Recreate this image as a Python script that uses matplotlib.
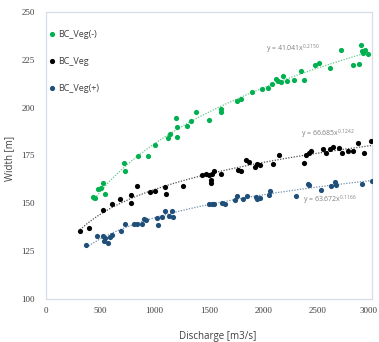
import numpy as np
import matplotlib
matplotlib.use("Agg")
import matplotlib.pyplot as plt
import matplotlib.transforms as mtransforms

# ---- data ----
green_x = [434, 452, 483, 505, 523, 545, 714, 723, 846, 939, 1006, 1120, 1139, 1200, 1207, 1207,
           1299, 1330, 1376, 1499, 1613, 1613, 1761, 1791, 1893, 1985, 2047, 2084, 2115, 2136, 2167,
           2185, 2222, 2283, 2345, 2376, 2475, 2508, 2616, 2715, 2828, 2884, 2899, 2905, 2915, 2939, 2967]
green_y = [153.3, 153, 157.6, 158, 160.8, 155, 171, 166.9, 174.5, 174.5, 180.7, 184.2, 186, 194.4, 190, 184.9,
           190.6, 193.2, 197.6, 193.6, 199.3, 197.6, 203.3, 204.5, 208, 209.7, 210.3, 212.3, 214.9, 214, 213.5,
           216.7, 213.7, 214.4, 219.3, 214.4, 222.2, 223.3, 220.5, 230, 222.2, 222.7, 232.6, 229.7, 228.5, 230.2, 228.3]

black_x = [314, 397, 523, 606, 677, 782, 785, 837, 954, 1006, 1099, 1108, 1262, 1437, 1468, 1499, 1514,
           1521, 1530, 1545, 1607, 1766, 1791, 1837, 1868, 1924, 1945, 1970, 2093, 2145, 2376, 2391, 2422,
           2438, 2545, 2576, 2616, 2638, 2693, 2724, 2776, 2822, 2869, 2930, 2992]
black_y = [135.4, 137.1, 146.7, 149.5, 152.4, 154.5, 150.2, 158.9, 155.9, 156.3, 158.5, 155, 158.9, 164.6, 165.1,
           164.6, 162, 160.6, 165.5, 166.8, 165.5, 167.6, 166.8, 172.4, 171.5, 168.9, 170.3, 170.1, 170.7, 175.5,
           171, 175.4, 176.4, 177.2, 178.5, 176.4, 178.5, 179.3, 179, 176.4, 177.6, 177.6, 181.6, 176.2, 182.4]

blue_x = [372, 471, 529, 532, 545, 575, 588, 606, 689, 729, 806, 837, 883, 899, 923, 1022, 1031, 1068, 1099,
          1129, 1161, 1166, 1499, 1530, 1545, 1616, 1647, 1737, 1761, 1816, 1853, 1930, 1945, 1970, 2053, 2059,
          2299, 2413, 2416, 2530, 2622, 2662, 2668, 2909, 2998]
blue_y = [128.1, 133, 133, 130.4, 132, 129.3, 132.6, 133.2, 135.6, 139.4, 139.4, 139.4, 139.4, 141.7, 141.5,
          142.5, 138.9, 143, 146.1, 143.2, 146, 142.9, 149.8, 149.7, 149.5, 150.4, 149.8, 152, 153.9, 152.4,
          153.6, 153.4, 152.1, 153, 154.2, 156.4, 153.6, 160.2, 159.6, 156.8, 158.9, 161.1, 159.7, 160.2, 161.5]

series_labels = ["BC_Veg(-)", "BC_Veg", "BC_Veg(+)"]
fit_a = [41.041, 66.685, 63.672]
fit_b = [0.2150, 0.1242, 0.1166]
fit_text = ["41.041", "66.685", "63.672"]
fit_exp_text = ["0.2150", "0.1242", "0.1166"]

x_ticks = [0, 500, 1000, 1500, 2000, 2500, 3000]
y_ticks = [100, 125, 150, 175, 200, 225, 250]

# ---- plot ----
fig = plt.figure(figsize=(3.79, 3.42), dpi=100)
ax = fig.add_axes([46 / 379, 43 / 342, 326 / 379, 287 / 342])

colors = ["#00b050", "#000000", "#1f4e79"]
trend_colors = ["#66c98a", "#505050", "#7090b0"]
xs = [green_x, black_x, blue_x]
ys = [green_y, black_y, blue_y]
label_pos = [(293, 49), (328, 134), (330, 200)]

for i in range(3):
    ax.scatter(xs[i], ys[i], s=14, color=colors[i], zorder=3, label=series_labels[i], linewidths=0)
    xx = np.linspace(min(xs[i]), max(xs[i]), 200)
    ax.plot(xx, fit_a[i] * xx ** fit_b[i], linestyle=(0, (1, 1.2)), color=trend_colors[i], lw=0.9, zorder=2)

# equation labels (pixel positions converted to data)
def px_to_data(px, py):
    return (px - 46) / 326 * 3000, 100 + (299 - py) / 287 * 150

for i in range(3):
    dx, dy = px_to_data(*label_pos[i])
    ax.text(dx, dy, "y = " + fit_text[i] + "x$^{\\mathregular{" + fit_exp_text[i] + "}}$",
            fontsize=5, color="#808080", ha="center", va="center", family="Open Sans", zorder=4)

ax.set_xlim(0, 3000)
ax.set_ylim(100, 250)
ax.set_xticks(x_ticks)
ax.set_yticks(y_ticks)
ax.tick_params(length=0, labelsize=6.5, labelcolor="#404040", pad=8)
for lab in ax.get_xticklabels() + ax.get_yticklabels():
    lab.set_family("Liberation Serif")
ax.tick_params(axis="x", pad=6)
# nudge last x tick label so it stays inside the figure
last = ax.get_xticklabels()[-1]
last.set_transform(last.get_transform() + mtransforms.ScaledTranslation(-3 / 100, 0, fig.dpi_scale_trans))

for s in ax.spines.values():
    s.set_color("#d6dee8")
    s.set_linewidth(0.9)

ax.set_xlabel("Discharge [m3/s]", fontsize=7, family="Open Sans", color="#404040")
ax.set_ylabel("Width [m]", fontsize=7, family="Open Sans", color="#404040")
ax.xaxis.set_label_coords(0.528, -0.112)
ax.yaxis.set_label_coords(-0.095, 0.49)

leg = ax.legend(loc="upper left", bbox_to_anchor=(0, 0.951), frameon=False,
                handlelength=0.5, handletextpad=0.4, labelspacing=2.0, borderpad=0.4,
                borderaxespad=0, prop={"family": "Open Sans", "size": 6.5})
for t in leg.get_texts():
    t.set_color("#404040")

fig.savefig("out.png", dpi=100)
